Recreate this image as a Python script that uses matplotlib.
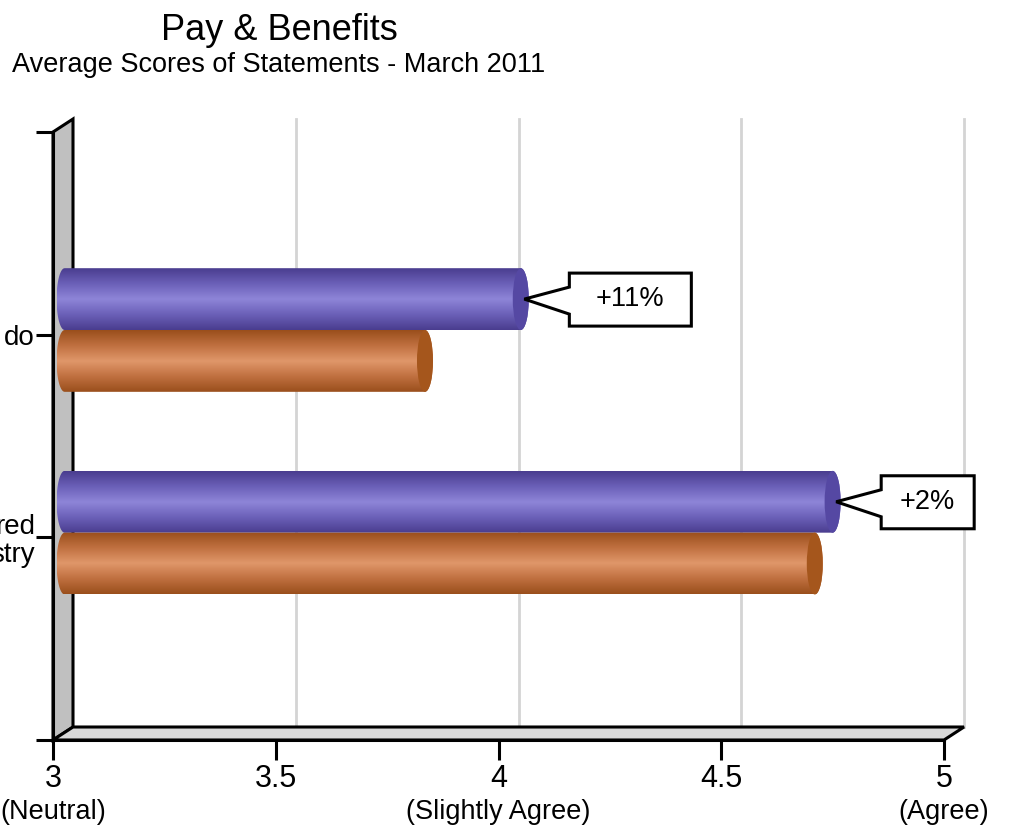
import numpy as np
import matplotlib
matplotlib.use("Agg")
from matplotlib import pyplot as plt
from matplotlib.path import Path
from matplotlib.patches import PathPatch, Ellipse, Polygon
from matplotlib.colors import LinearSegmentedColormap
import matplotlib.transforms as mtransforms

plt.rcParams['font.family'] = ['Liberation Sans', 'DejaVu Sans']

# data
categories = ["do", "red\nstry"]
scores_new = [4.05, 4.75]     # purple bars
scores_old = [3.835, 4.71]    # orange bars
changes = ["+11%", "+2%"]
xticks = [3, 3.5, 4, 4.5, 5]
xtick_labels = ["3", "3.5", "4", "4.5", "5"]
xtick_notes = ["(Neutral)", "", "(Slightly Agree)", "", "(Agree)"]

fig = plt.figure(figsize=(10.1, 8.3), dpi=100)
ax = fig.add_axes([53/1010, 1-740/830, 891/1010, 608/830])
ax.set_xlim(3, 5)
ax.set_ylim(3, 0)
ax.set_facecolor('none')

# depth offset of the back plane (data units)
dx = 20/445.5
dy = 13/202.7
lw = 2.2

# left wall and floor
wall = Polygon([(3, 0), (3+dx, -dy), (3+dx, 3-dy), (3, 3)], closed=True,
               facecolor='#c0c0c0', edgecolor='black', lw=lw, clip_on=False, zorder=1)
floor = Polygon([(3, 3), (3+dx, 3-dy), (5+dx, 3-dy), (5, 3)], closed=True,
                facecolor='#d9d9d9', edgecolor='black', lw=lw, clip_on=False, zorder=1)
ax.add_patch(wall)
ax.add_patch(floor)
for v in xticks[1:]:
    ax.plot([v+dx, v+dx], [-dy, 3-dy], color='#d4d4d4', lw=2, clip_on=False, zorder=0.5)

# cylinder bars
blue_cmap = LinearSegmentedColormap.from_list('b', ['#4a3d8f', '#6b60b8', '#8e85d8', '#6b60b8', '#4a3d8f'])
orange_cmap = LinearSegmentedColormap.from_list('o', ['#9a4f1c', '#c07040', '#e0976a', '#c07040', '#9a4f1c'])
bar_h = 0.305
shift = -0.023
a = 0.018  # half width of end ellipse
start = 3.0 + a + 0.008
grad = np.linspace(0, 1, 200).reshape(-1, 1)


def cylinder(val, yc, cmap, capcol):
    yt, yb = yc - bar_h/2, yc + bar_h/2
    t = np.linspace(np.pi/2, 3*np.pi/2, 30)
    left = [(start + a*np.cos(s), yc - bar_h/2*np.sin(s)) for s in t]
    t2 = np.linspace(-np.pi/2, np.pi/2, 30)
    right = [(val + a*np.cos(s), yc - bar_h/2*np.sin(s)) for s in t2]
    verts = left + right + [left[0]]
    codes = [Path.MOVETO] + [Path.LINETO]*(len(verts)-2) + [Path.CLOSEPOLY]
    clip = PathPatch(Path(verts, codes), transform=ax.transData, facecolor='none', edgecolor='none')
    ax.add_patch(clip)
    im = ax.imshow(grad, cmap=cmap, extent=(start-a, val+a, yb, yt), aspect='auto',
                   interpolation='bilinear', zorder=3)
    im.set_clip_path(clip)
    ax.add_patch(Ellipse((val, yc), 2*a, bar_h, facecolor=capcol, edgecolor='none', zorder=4))


for i, cat in enumerate(categories):
    c = i + 1 + shift
    cylinder(scores_new[i], c - bar_h/2, blue_cmap, '#5548a3')
    cylinder(scores_old[i], c + bar_h/2, orange_cmap, '#a5561c')

ax.set_xlim(3, 5)
ax.set_ylim(3, 0)

# callouts
px = fig.dpi/100
for i, txt in enumerate(changes):
    tipx = scores_new[i] + 0.008
    tipy = i + 1 + shift - bar_h/2
    w = 122 if len(txt) > 3 else 93
    gap = 45
    shape = [(0, 0), (gap, 12), (gap, 26), (gap+w, 26), (gap+w, -27), (gap, -27), (gap, -15)]
    tr = mtransforms.Affine2D().scale(px) + mtransforms.ScaledTranslation(tipx, tipy, ax.transData)
    ax.add_patch(Polygon(shape, closed=True, transform=tr, facecolor='white',
                         edgecolor='black', lw=2.2, clip_on=False, zorder=5))
    ax.annotate(txt, xy=(tipx, tipy), xytext=((gap + w/2)*px, 0), textcoords='offset pixels',
                ha='center', va='center', fontsize=19.5, zorder=6, annotation_clip=False)

# axes
for s in ['top', 'right']:
    ax.spines[s].set_visible(False)
ax.spines['left'].set_linewidth(lw)
ax.spines['bottom'].set_linewidth(lw)
ax.spines['left'].set_zorder(2)
ax.spines['bottom'].set_zorder(2)
ax.set_xticks(xticks)
ax.set_xticklabels(xtick_labels, fontsize=22)
ax.set_yticks([0, 1, 2, 3])
ax.set_yticklabels([""] + categories + [""], fontsize=20, linespacing=1.1)
ax.tick_params(axis='x', length=14.4, width=lw, pad=3)
ax.tick_params(axis='y', length=12, width=lw, pad=1)
for v, note in zip(xticks, xtick_notes):
    if note:
        ax.text(v, -0.118, note, transform=ax.get_xaxis_transform(), ha='center',
                va='center', fontsize=19.5)

fig.text(279/1010, 1-40/830, "Pay & Benefits", ha='center', va='baseline', fontsize=26)
fig.text(12/1010, 1-72/830, "Average Scores of Statements - March 2011", ha='left',
         va='baseline', fontsize=19.5)

plt.savefig("out.png", dpi=100)
